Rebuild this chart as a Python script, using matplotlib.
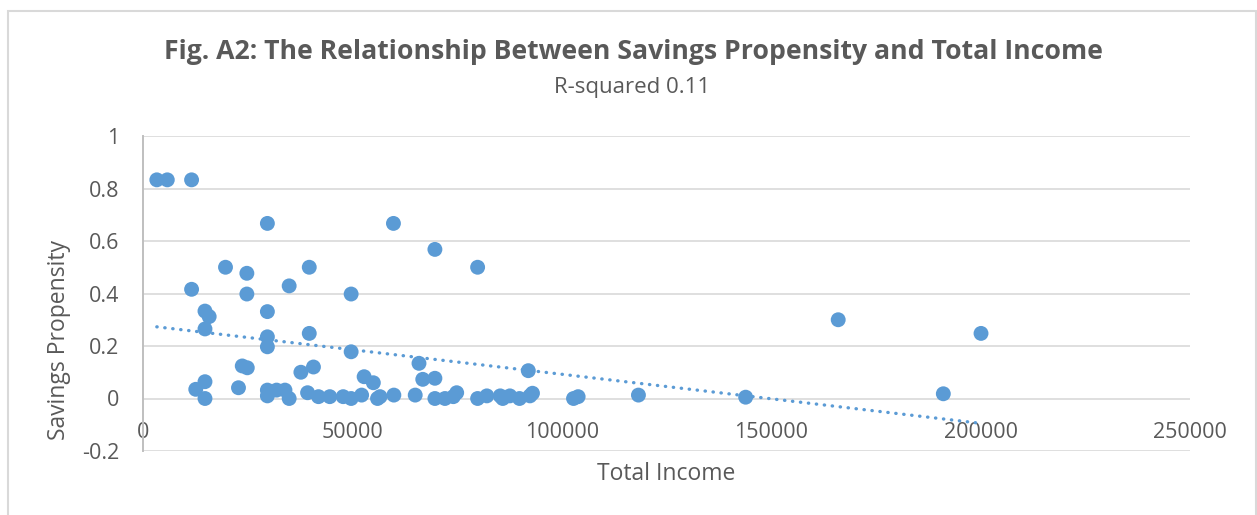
import numpy as np
import matplotlib
matplotlib.use("Agg")
import matplotlib.pyplot as plt
from matplotlib.patches import Rectangle

plt.rcParams['font.family'] = ['Open Sans', 'DejaVu Sans']

title = "Fig. A2: The Relationship Between Savings Propensity and Total Income"
subtitle = "R-squared 0.11"
x_label = "Total Income"
y_label = "Savings Propensity"

total_income = [
    3300, 5800, 11600, 29700, 59800, 69700, 79900, 19700, 39700, 24800,
    11600, 24800, 34900, 49700, 14800, 15800, 14800, 29700, 39700, 29700,
    29700, 49700, 65900, 23700, 24900, 37700, 40700, 92000, 166000, 200100,
    12600, 14800, 14800, 22800, 29700, 31900, 33900, 29700, 34900,
    39300, 41900, 44600, 47800, 49700, 52200, 52800, 55000, 56000, 56600,
    59900, 65000, 66800, 69700, 69700, 72100, 74100, 74900,
    79900, 82100, 85300, 85900, 87600, 89900, 92400, 93000,
    102800, 103900, 118300, 143900, 191100,
]
savings_propensity = [
    0.833, 0.833, 0.833, 0.667, 0.667, 0.568, 0.5, 0.5, 0.5, 0.477,
    0.416, 0.398, 0.429, 0.398, 0.333, 0.312, 0.265, 0.331, 0.248, 0.235,
    0.197, 0.178, 0.134, 0.124, 0.117, 0.10, 0.12, 0.106, 0.30, 0.248,
    0.035, 0.064, 0.0, 0.041, 0.032, 0.032, 0.032, 0.01, 0.0,
    0.022, 0.007, 0.007, 0.007, 0.0, 0.013, 0.083, 0.06, 0.0, 0.007,
    0.013, 0.013, 0.073, 0.077, 0.0, 0.0, 0.007, 0.022,
    0.0, 0.01, 0.01, 0.0, 0.01, 0.0, 0.01, 0.02,
    0.0, 0.007, 0.013, 0.005, 0.018,
]

x_ticks = [0, 50000, 100000, 150000, 200000, 250000]
y_ticks = [-0.2, 0, 0.2, 0.4, 0.6, 0.8, 1]
y_tick_labels = ["-0.2", "0", "0.2", "0.4", "0.6", "0.8", "1"]

blue = "#5B9BD5"
grid_c = "#D9D9D9"
text_c = "#595959"

W, H = 1257, 515
fig = plt.figure(figsize=(W / 100, H / 100), dpi=100)
ax = fig.add_axes([143 / W, 1 - 451 / H, (1190 - 143) / W, (451 - 136) / H])

x = np.array(total_income, dtype=float)
y = np.array(savings_propensity, dtype=float)

ax.scatter(x, y, s=115, color=blue, edgecolors='none', zorder=3)

coef = np.polyfit(x, y, 1)
xt = np.array([x.min(), x.max()])
ax.plot(xt, np.polyval(coef, xt), color=blue, lw=2.4,
        linestyle=(0, (0.1, 2.3)), dash_capstyle='round', zorder=2)

ax.set_xlim(0, 250000)
ax.set_ylim(-0.2, 1)
ax.set_yticks(y_ticks)
ax.set_yticklabels(y_tick_labels)
ax.set_xticks(x_ticks)
ax.set_xticklabels([str(v) for v in x_ticks])

for v in y_ticks:
    ax.axhline(v, color=grid_c, lw=1.2, zorder=1)

for s in ['top', 'right', 'bottom']:
    ax.spines[s].set_visible(False)
ax.spines['left'].set_color('#BFBFBF')
ax.spines['left'].set_linewidth(1.4)
ax.spines['bottom'].set_position(('data', 0))

ax.tick_params(axis='both', length=0, colors=text_c, labelsize=15.5)
ax.tick_params(axis='y', pad=17)
ax.tick_params(axis='x', pad=17)

fig.text(59 / W, 1 - 340 / H, y_label, rotation=90, ha='center', va='center',
         fontsize=16.5, color=text_c)
fig.text(666 / W, 1 - 474 / H, x_label, ha='center', va='center',
         fontsize=16.5, color=text_c)
fig.text(633 / W, 1 - 52 / H, title, ha='center', va='center',
         fontsize=19.2, fontweight='bold', color=text_c)
fig.text(632 / W, 1 - 88 / H, subtitle, ha='center', va='center',
         fontsize=16, color=text_c)

fig.patches.append(Rectangle((8 / W, -0.05), (1256 - 8) / W, 1.05 - 11 / H,
                             transform=fig.transFigure, fill=False,
                             edgecolor=grid_c, lw=1.5))

fig.savefig("out.png", dpi=100)
